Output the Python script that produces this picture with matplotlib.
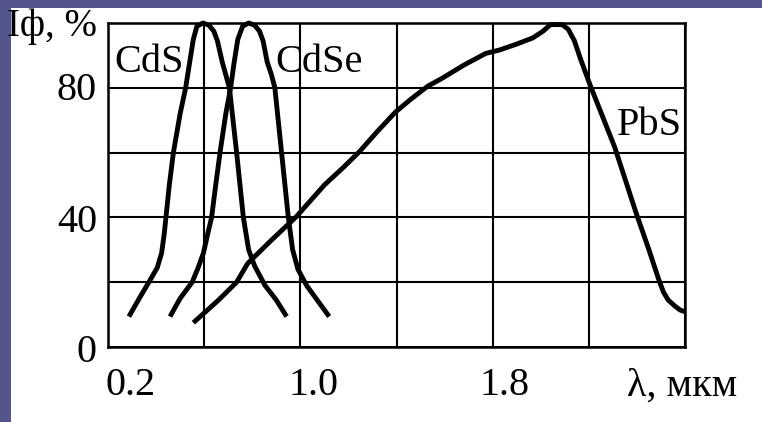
import numpy as np
import matplotlib
matplotlib.use('Agg')
import matplotlib.pyplot as plt
from matplotlib.patches import Rectangle

# spectral characteristics (lambda in um, I in %)
cds_lam = [0.287, 0.33, 0.37, 0.405, 0.423, 0.434, 0.441, 0.455, 0.472, 0.50,
           0.523, 0.54, 0.555, 0.57, 0.595, 0.62, 0.64, 0.655, 0.675, 0.69,
           0.705, 0.72, 0.735, 0.763, 0.785, 0.81, 0.853, 0.90, 0.943]
cds_val = [9.4, 15, 20, 24.5, 29, 35, 40, 50, 60, 72,
           80, 88, 95, 99, 100, 99.3, 97.5, 94.5, 88, 84,
           80, 70, 60, 40, 30, 25, 19, 14.5, 9.4]

cdse_lam = [0.458, 0.50, 0.55, 0.575, 0.597, 0.615, 0.631, 0.648, 0.666, 0.69,
            0.71, 0.725, 0.74, 0.76, 0.785, 0.81, 0.83, 0.845, 0.862, 0.88,
            0.894, 0.908, 0.922, 0.95, 0.968, 0.99, 1.026, 1.07, 1.12]
cdse_val = [9.4, 15, 20, 24.5, 29, 35, 40, 50, 60, 72,
            80, 88, 95, 99, 100, 99.3, 97.5, 94.5, 88, 84,
            80, 70, 60, 40, 30, 24, 19, 14.5, 9.4]

pbs_lam = [0.555, 0.66, 0.735, 0.781, 0.88, 0.983, 1.10, 1.18, 1.246, 1.32,
           1.397, 1.46, 1.53, 1.589, 1.68, 1.771, 1.83, 1.90, 1.967, 2.01,
           2.04, 2.09, 2.115, 2.14, 2.165, 2.205, 2.307, 2.397, 2.45, 2.49,
           2.51, 2.53, 2.56, 2.58, 2.60]
pbs_val = [7.5, 14.5, 20, 25.8, 33, 40.2, 50, 55.5, 60.3, 66.5,
           72.6, 76.5, 80.5, 82.9, 87, 90.6, 91.7, 93.5, 95.4, 97.5,
           99.5, 99.5, 98, 94.5, 89, 80.9, 61.8, 41.3, 30, 21,
           17, 14.5, 12.5, 11.4, 10.9]

x_tick_labels = ['0.2', '1.0', '1.8']
y_tick_labels = ['80', '40', '0']

W, H = 762, 422
FONT = 'Liberation Serif'


def px(x, y):
    # pixel position (from top-left) -> figure fraction
    return x / W, 1 - y / H


fig = plt.figure(figsize=(W / 100, H / 100), dpi=100)
fig.patch.set_facecolor('#55558e')
fig.patches.append(Rectangle((11 / W, 0), 1 - 11 / W, 1 - 8 / H,
                             transform=fig.transFigure, facecolor='white',
                             edgecolor='none', zorder=-5))

ax = fig.add_axes([108 / W, 1 - 347 / H, (685 - 108) / W, (347 - 23) / H])
ax.set_zorder(2)
ax.set_facecolor('white')
ax.set_xlim(0.2, 2.6)
ax.set_ylim(0, 100)
ax.set_xticks(np.arange(0.2, 2.61, 0.4))
ax.set_yticks(np.arange(0, 101, 20))
ax.tick_params(length=0, labelbottom=False, labelleft=False)
ax.grid(True, color='black', linewidth=1.5)
ax.set_axisbelow(True)
for s in ax.spines.values():
    s.set_linewidth(1.8)
    s.set_color('black')

for lam, val in [(cds_lam, cds_val), (cdse_lam, cdse_val), (pbs_lam, pbs_val)]:
    ax.plot(lam, val, color='black', linewidth=3.5, clip_on=False,
            solid_joinstyle='round', solid_capstyle='butt', zorder=3)

fs = 29
# axis labels drawn as placed text, like in the scanned figure
for lab, xp in zip(x_tick_labels, [131, 313, 505]):
    fig.text(*px(xp, 395), lab, ha='center', va='baseline', fontsize=fs, family=FONT)
for lab, yp in zip(y_tick_labels, [100, 232, 362]):
    fig.text(*px(97, yp), lab, ha='right', va='baseline', fontsize=fs, family=FONT)

fig.text(*px(627, 396), 'λ, мкм', ha='left', va='baseline', fontsize=fs, family=FONT)
fig.text(*px(97, 36), 'Iф, %', ha='right', va='baseline', fontsize=28, family=FONT)

fig.text(*px(114, 72), 'CdS', ha='left', va='baseline', fontsize=fs, family=FONT)
fig.text(*px(275, 72), 'CdSe', ha='left', va='baseline', fontsize=fs, family=FONT)
fig.text(*px(617, 135), 'PbS', ha='left', va='baseline', fontsize=fs, family=FONT)

fig.savefig('out.png', dpi=100, facecolor=fig.get_facecolor())
